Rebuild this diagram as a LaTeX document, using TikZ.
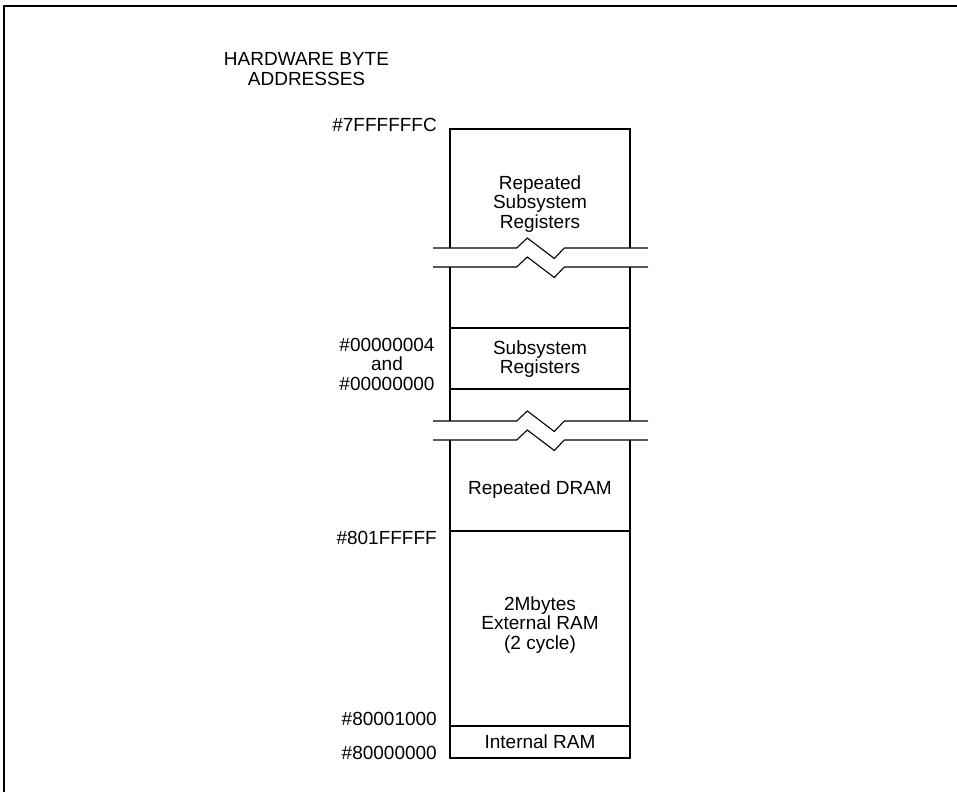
\documentclass[tikz,border=0pt]{standalone}
\usepackage{fontspec}
\setmainfont{Liberation Sans}
\begin{document}
\begin{tikzpicture}[x=1pt,y=-1pt,
  lbl/.style={inner sep=0pt,font=\fontsize{19}{19.5}\selectfont},
  mlbl/.style={lbl,align=center},
  addr/.style={lbl,anchor=east},
  boxline/.style={line width=1.1pt},
  frameline/.style={line width=1.5pt}]
\useasboundingbox (0,0) rectangle (957,792);
% outer frame (open on right and bottom)
\coordinate (fbl) at (4,792);
\coordinate (ftl) at (4,6);
\coordinate (ftr) at (957,6);
\draw[frameline] (fbl) -- (ftl) -- (ftr);

% box coordinates
\coordinate (tl) at (450,129);   \coordinate (tr) at (630,129);
\coordinate (b1l) at (450,248);  \coordinate (b1r) at (630,248);
\coordinate (b2l) at (450,267);  \coordinate (b2r) at (630,267);
\coordinate (s1l) at (450,328);  \coordinate (s1r) at (630,328);
\coordinate (s2l) at (450,389);  \coordinate (s2r) at (630,389);
\coordinate (b3l) at (450,421);  \coordinate (b3r) at (630,421);
\coordinate (b4l) at (450,440);  \coordinate (b4r) at (630,440);
\coordinate (dl) at (450,531);   \coordinate (dr) at (630,531);
\coordinate (il) at (450,726);   \coordinate (ir) at (630,726);
\coordinate (bl) at (450,758);   \coordinate (br) at (630,758);

% box outline segments
\draw[boxline] (b1l) -- (tl) -- (tr) -- (b1r);
\draw[boxline] (b2l) -- (b3l);
\draw[boxline] (b2r) -- (b3r);
\draw[boxline] (b4l) -- (bl) -- (br) -- (b4r);
\draw[boxline] (s1l) -- (s1r);
\draw[boxline] (s2l) -- (s2r);
\draw[boxline] (dl) -- (dr);
\draw[boxline] (il) -- (ir);

% break lines with zigzag
\foreach \y in {248,267,421,440}{
  \draw[boxline] (433,\y) -- (516.7,\y) -- (527.3,\y-10) -- (554.3,\y+10.5) -- (564.3,\y) -- (648,\y);
}

% labels
\node[mlbl] (title) at (306.5,69) {HARDWARE BYTE\\ADDRESSES};
\node[addr] (a7f) at (437,125) {\#7FFFFFFC};
\node[mlbl] (rsr) at (540,204) {Repeated\\Subsystem\\Registers};
\node[mlbl] (a004) at (387,364) {\#00000004\\and\\\#00000000};
\node[mlbl] (sr) at (540,359) {Subsystem\\Registers};
\node[mlbl] (rd) at (540,489.5) {Repeated DRAM};
\node[addr] (a801) at (437,537.5) {\#801FFFFF};
\node[mlbl] (ext) at (540,625) {2Mbytes\\External RAM\\(2 cycle)};
\node[addr] (a8001) at (437,719) {\#80001000};
\node[addr] (a8000) at (437,753) {\#80000000};
\node[mlbl] (iram) at (540,742) {Internal RAM};
\end{tikzpicture}
\end{document}
